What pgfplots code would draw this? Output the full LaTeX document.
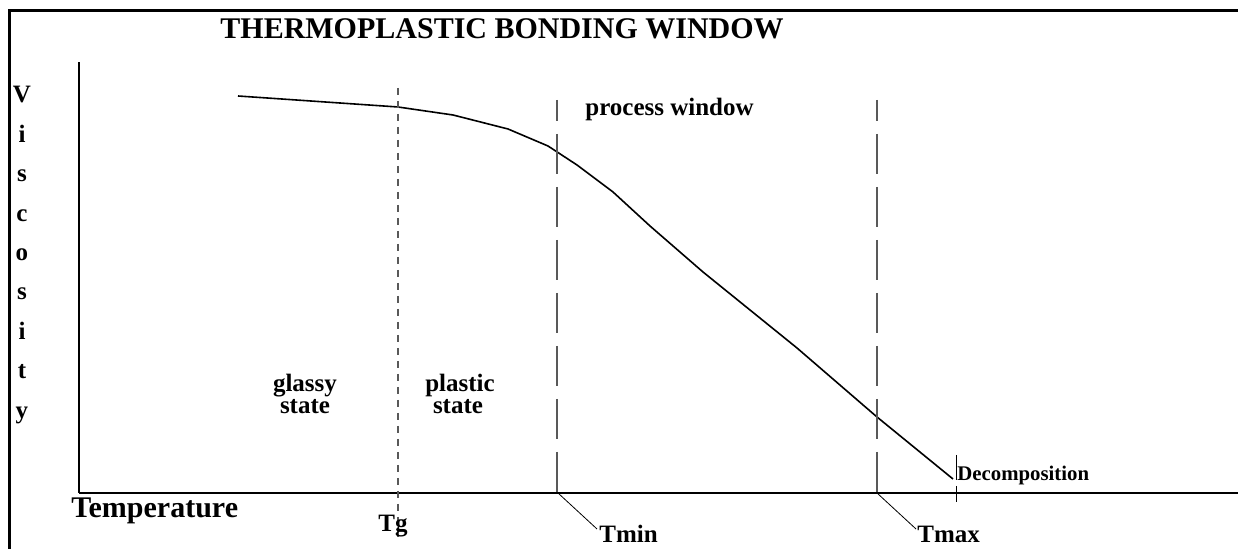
\documentclass[border=0pt]{standalone}
\usepackage{pgfplots}
\pgfplotsset{compat=1.18}
\usepackage{fontspec}
\setmainfont{Liberation Serif}
\begin{document}
\begin{tikzpicture}
\begin{axis}[
  scale only axis,
  width=579.5pt, height=215.5pt,
  xmin=79, xmax=1238, ymin=56, ymax=487,
  axis lines*=left,
  axis line style={line width=1pt, line cap=butt},
  xtick=\empty, ytick=\empty,
  clip=false,
]
% viscosity curve
\addplot[black, line width=0.8pt, mark=none] coordinates {
 (238,453) (398,442) (453,434) (508,420) (548,403) (577,384) (613,357)
 (650,323) (703,277) (797,201) (877,132) (953,70)};
% Tg line
\addplot[black!65, line width=0.6pt, dash pattern=on 3.5pt off 3pt] coordinates {(398,461) (398,9)};
% Tmin, Tmax
\addplot[black!65, line width=0.6pt, dash pattern=on 20pt off 6.5pt, dash phase=9.5pt] coordinates {(557,449) (557,56)};
\addplot[black!65, line width=0.6pt, dash pattern=on 20pt off 6.5pt, dash phase=9.5pt] coordinates {(877,449) (877,56)};
% Decomposition
\addplot[black, line width=0.5pt, dash pattern=on 12.5pt off 3pt] coordinates {(956,94) (956,47)};
% leader lines
\addplot[black, line width=0.4pt] coordinates {(558,56) (597,20)};
\addplot[black, line width=0.4pt] coordinates {(877,56) (916,20)};
% frame
\draw[line width=1.5pt] (axis cs:1238,538) -- (axis cs:10,538) -- (axis cs:10,0);
% texts
\node[anchor=base west, inner sep=0pt, font=\fontsize{15}{18}\selectfont\bfseries] at (axis cs:220,510) {THERMOPLASTIC BONDING WINDOW};
\node[anchor=base west, inner sep=0pt, font=\fontsize{15}{18}\selectfont\bfseries] at (axis cs:71,31) {Temperature};
\node[anchor=base, inner sep=0pt, font=\fontsize{12.5}{15}\selectfont\bfseries] at (axis cs:393,17) {Tg};
\node[anchor=base west, inner sep=0pt, font=\fontsize{12.5}{15}\selectfont\bfseries] at (axis cs:599,6) {Tmin};
\node[anchor=base west, inner sep=0pt, font=\fontsize{12.5}{15}\selectfont\bfseries] at (axis cs:917,6) {Tmax};
\node[anchor=base west, inner sep=0pt, font=\fontsize{10.4}{12}\selectfont\bfseries] at (axis cs:957,68) {Decomposition};
\node[anchor=base west, inner sep=0pt, font=\fontsize{12.5}{15}\selectfont\bfseries] at (axis cs:585,433) {process window};
\node[anchor=base, inner sep=0pt, font=\fontsize{12.5}{15}\selectfont\bfseries] at (axis cs:305,157) {glassy};
\node[anchor=base, inner sep=0pt, font=\fontsize{12.5}{15}\selectfont\bfseries] at (axis cs:305,135) {state};
\node[anchor=base, inner sep=0pt, font=\fontsize{12.5}{15}\selectfont\bfseries] at (axis cs:460,157) {plastic};
\node[anchor=base, inner sep=0pt, font=\fontsize{12.5}{15}\selectfont\bfseries] at (axis cs:458,135) {state};
% vertical Viscosity
\node[anchor=base, inner sep=0pt, font=\fontsize{12.5}{15}\selectfont\bfseries] at (axis cs:22,446) {V};
\node[anchor=base, inner sep=0pt, font=\fontsize{12.5}{15}\selectfont\bfseries] at (axis cs:22,406.6) {i};
\node[anchor=base, inner sep=0pt, font=\fontsize{12.5}{15}\selectfont\bfseries] at (axis cs:22,367.2) {s};
\node[anchor=base, inner sep=0pt, font=\fontsize{12.5}{15}\selectfont\bfseries] at (axis cs:22,327.8) {c};
\node[anchor=base, inner sep=0pt, font=\fontsize{12.5}{15}\selectfont\bfseries] at (axis cs:22,288.4) {o};
\node[anchor=base, inner sep=0pt, font=\fontsize{12.5}{15}\selectfont\bfseries] at (axis cs:22,249) {s};
\node[anchor=base, inner sep=0pt, font=\fontsize{12.5}{15}\selectfont\bfseries] at (axis cs:22,209.6) {i};
\node[anchor=base, inner sep=0pt, font=\fontsize{12.5}{15}\selectfont\bfseries] at (axis cs:22,170.2) {t};
\node[anchor=base, inner sep=0pt, font=\fontsize{12.5}{15}\selectfont\bfseries] at (axis cs:22,130.8) {y};
\coordinate (bl) at (axis cs:0,0);
\coordinate (tr) at (axis cs:1238,549);
\end{axis}
\pgfresetboundingbox
\path[use as bounding box] (bl) rectangle (tr);
\end{tikzpicture}
\end{document}
